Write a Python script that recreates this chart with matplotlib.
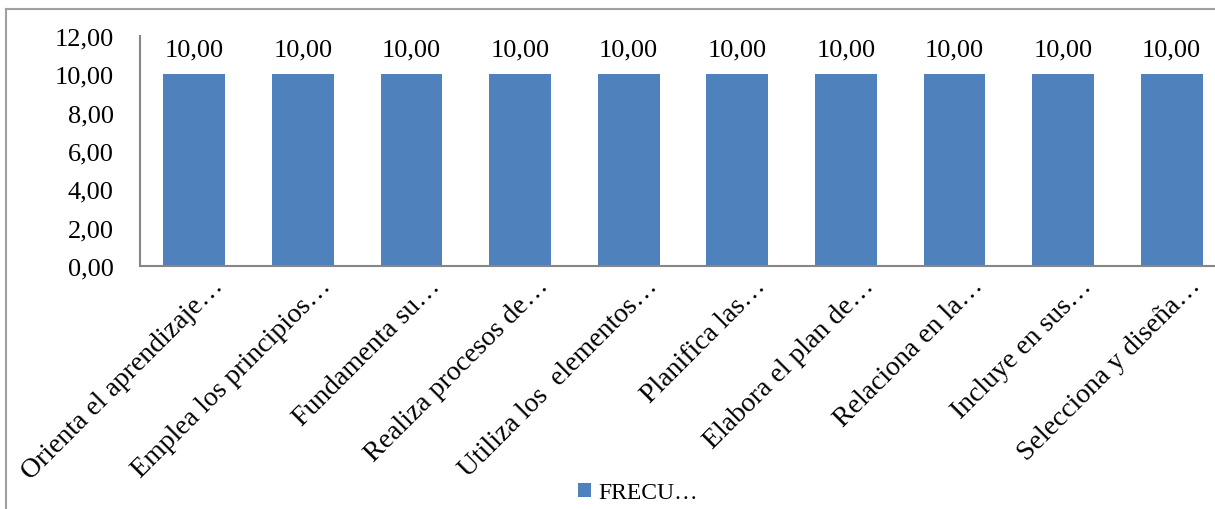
import numpy as np
import matplotlib.pyplot as plt
import matplotlib.transforms as mtransforms
from matplotlib.lines import Line2D
from matplotlib.ticker import FuncFormatter

categorias = ["Orienta el aprendizaje…", "Emplea los principios…", "Fundamenta su…",
              "Realiza procesos de…", "Utiliza los  elementos…", "Planifica las…",
              "Elabora el plan de…", "Relaciona en la…", "Incluye en sus…",
              "Selecciona y diseña…"]
frecuencia = [10.0, 10.0, 10.0, 10.0, 10.0, 10.0, 10.0, 10.0, 10.0, 10.0]
serie = "FRECU…"

plt.rcParams['font.family'] = ['Liberation Serif', 'DejaVu Serif']
FS = 19

W, H = 1215, 510
fig = plt.figure(figsize=(W / 100, H / 100), dpi=100)

# eje: izquierda en x=140, cero en y=267, 12 en y~37
ax = fig.add_axes([140 / W, (H - 267) / H, 1086 / W, (267 - 37) / H])

coma = lambda v: f"{v:.2f}".replace(".", ",")

x = np.arange(len(categorias))
barras = ax.bar(x, frecuencia, width=0.57, color="#4F81BD", zorder=2)
ax.bar_label(barras, labels=[coma(v) for v in frecuencia], padding=10, fontsize=FS)

ax.set_xlim(-0.5, len(categorias) - 0.5)
ax.set_ylim(0, 12)
ax.set_yticks(np.arange(0, 13, 2))
ax.yaxis.set_major_formatter(FuncFormatter(lambda v, p: coma(v)))
ax.tick_params(axis="y", length=0, labelsize=FS, pad=19)
ax.tick_params(axis="x", length=0)

ax.set_xticks(x)
ax.set_xticklabels(categorias, rotation=45, ha="right", va="top",
                   rotation_mode="anchor", fontsize=20)
# desplazar las etiquetas para que terminen a la derecha de cada barra
off = mtransforms.ScaledTranslation(0.16, -0.02, fig.dpi_scale_trans)
for lbl in ax.get_xticklabels():
    lbl.set_transform(lbl.get_transform() + off)

for s in ["top", "right"]:
    ax.spines[s].set_visible(False)
for s in ["left", "bottom"]:
    ax.spines[s].set_color("#868686")
    ax.spines[s].set_linewidth(1.5)

# leyenda abajo
ax.legend([barras[0]], [serie], loc="center", bbox_to_anchor=(638 / W, 1 - 494 / H),
          bbox_transform=fig.transFigure, frameon=False, fontsize=17,
          handlelength=0.55, handleheight=0.55, handletextpad=0.35)

# borde del área del gráfico
fig.add_artist(Line2D([6 / W, 6 / W], [0, 1 - 10 / H], color="#A0A0A0",
                      lw=1.5, transform=fig.transFigure))
fig.add_artist(Line2D([6 / W, 1], [1 - 10 / H, 1 - 10 / H], color="#A0A0A0",
                      lw=1.5, transform=fig.transFigure))

fig.savefig("out.png", dpi=100)
